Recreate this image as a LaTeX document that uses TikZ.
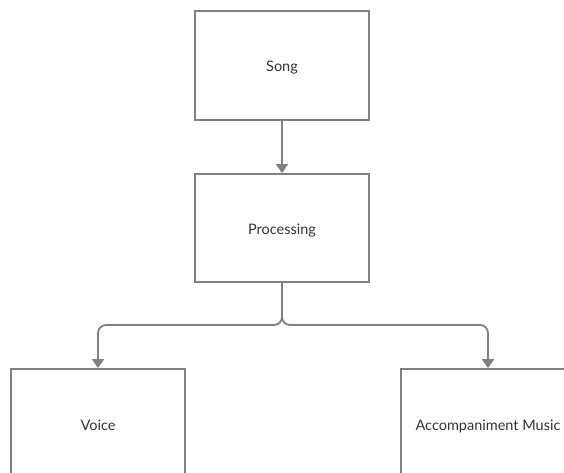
\documentclass[tikz,border=0pt]{standalone}
\usepackage{fontspec}
\setmainfont{Lato}
\usetikzlibrary{arrows.meta}
\definecolor{linegray}{HTML}{808080}
\definecolor{textgray}{HTML}{333333}
\tikzset{
  box/.style={draw=linegray, line width=1.8pt, minimum width=174pt, minimum height=109pt, inner sep=0pt, text height=13pt, text depth=0pt, font=\fontsize{14.5}{17}\selectfont, text=textgray, fill=white},
  conn/.style={draw=linegray, line width=1.8pt, rounded corners=8pt, -{Triangle[length=9pt,width=12pt]}}
}
\begin{document}
\begin{tikzpicture}[x=1pt,y=-1pt]
\useasboundingbox (0,0) rectangle (564,473);
\clip (0,0) rectangle (564,473);
\node[box] (song) at (282,65.5) {Song};
\node[box, minimum height=108pt] (proc) at (282,228) {Processing};
\node[box] (voice) at (98,423.5) {Voice};
\node[box] (acc) at (488,423.5) {Accompaniment Music};
\coordinate (split) at (282,325);
\draw[conn] (song.south) -- (proc.north);
\draw[conn] (proc.south) -- (split) -| (voice.north);
\draw[conn] (proc.south) -- (split) -| (acc.north);
\end{tikzpicture}
\end{document}
